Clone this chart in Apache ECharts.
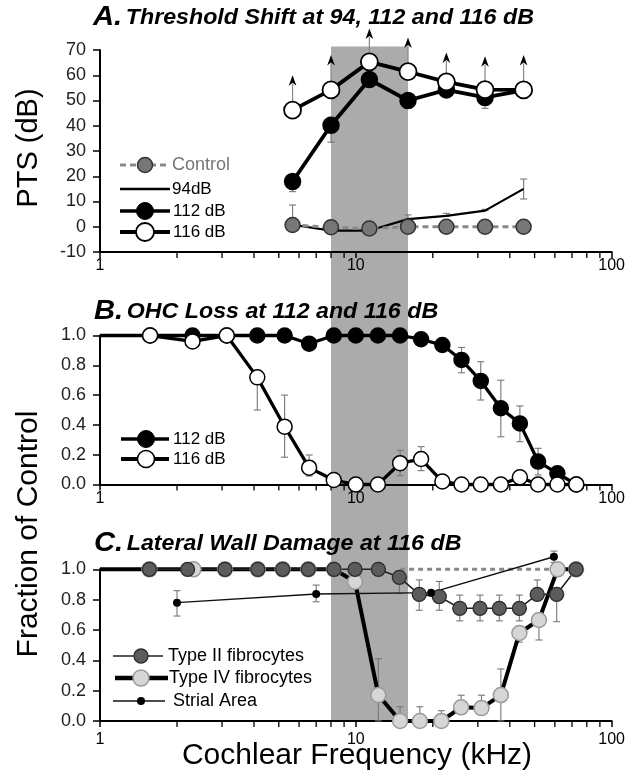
<!DOCTYPE html>
<html><head><meta charset="utf-8">
<script src="https://cdn.jsdelivr.net/npm/echarts@6/dist/echarts.min.js"></script>
<style>html,body{margin:0;padding:0;background:#fff}#c{width:632px;height:778px}</style>
</head><body><div id="c"></div>
<script>
// ---------- Panel A : Threshold shift (dB) ----------
const FREQ_A = [5.66, 8, 11.3, 16, 22.6, 32, 45.3];
const PTS_CONTROL = [0.7, -0.2, -0.7, 0, 0, 0, 0];
const PTS_94 = [0.8, -1.5, -1.5, 3, 4.3, 6.4, 15];
const PTS_112 = [17.9, 40.2, 58.3, 50, 54.2, 51.2, 54];
const PTS_116 = [46.2, 54.2, 65.3, 61.4, 57.4, 54.3, 54.2];
const ARROW_TIP_116 = [60, 68, 78.5, 75, 69, 67.5, 68];
const ERR_A_94 = [[5.66, 0.8, 8.6], [16, 3, 4.7], [22.6, 4.3, 5.3], [32, 6.4, 6.9], [45.3, 11, 18.9]];
const ERR_A_112 = [[5.66, 13.9, 17.9], [8, 33.5, 43.4], [32, 46.9, 51.2]];

// ---------- Panel B : OHC loss (fraction of control) ----------
const FREQ_B = [1.57, 2.3, 3.13, 4.12, 5.27, 6.57, 8.2, 10, 12.2, 14.9, 18, 21.8, 25.9, 30.8, 36.9, 43.8, 51.6, 61.4, 72.8];
const OHC_112 = [1, 1, 1, 1, 1, 0.945, 1, 1, 1, 1, 0.975, 0.936, 0.836, 0.695, 0.512, 0.41, 0.154, 0.075, 0];
const OHC_116 = [1, 0.96, 1, 0.719, 0.388, 0.113, 0.03, 0, 0, 0.143, 0.171, 0.02, 0, 0, 0, 0.048, 0, 0, 0];
const ERR_B_112 = [[25.9, 0.75, 0.92], [30.8, 0.567, 0.824], [36.9, 0.32, 0.70], [43.8, 0.287, 0.527], [51.6, 0.064, 0.243]];
const ERR_B_116 = [[4.12, 0.5, 0.719], [5.27, 0.183, 0.6], [6.57, 0.057, 0.198], [14.9, 0.059, 0.23], [18, 0.093, 0.254]];

// ---------- Panel C : Lateral wall damage ----------
const FREQ_C_II = [1.56, 2.2, 3.08, 4.14, 5.18, 6.52, 8.22, 9.93, 12.25, 14.8, 17.7, 21.2, 25.5, 30.6, 36.4, 43.6, 51.2, 61, 72.6];
const TYPE_II = [1, 1, 1, 1, 1, 1, 1, 1, 1, 0.947, 0.835, 0.82, 0.743, 0.743, 0.743, 0.743, 0.835, 0.835, 1.0];
const FREQ_C_IV = [1.56, 2.32, 3.08, 4.14, 5.18, 6.52, 8.22, 9.93, 12.25, 14.9, 17.8, 21.6, 25.8, 31, 36.9, 43.6, 52, 61.5, 72.6];
const TYPE_IV = [1, 1, 1, 1, 1, 1, 1, 0.918, 0.171, 0, 0, 0, 0.09, 0.085, 0.171, 0.58, 0.666, 1.0, 1.0];
const STRIAL_FREQ = [2, 7, 19.7, 59.5];
const STRIAL = [0.78, 0.837, 0.846, 1.083];
const CONTROL_C_FREQ = [14.9, 72.6];
const CONTROL_C = [1, 1];
const ERR_C_II = [[14.8, 0.84, 0.947], [17.7, 0.73, 0.93], [21.2, 0.73, 0.92], [25.5, 0.66, 0.83], [30.6, 0.66, 0.83], [36.4, 0.66, 0.83], [43.6, 0.66, 0.83], [51.2, 0.835, 0.93], [61, 0.655, 0.835]];
const ERR_C_IV = [[12.25, 0, 0.41], [14.9, 0, 0.094], [17.8, 0, 0.094], [21.6, 0, 0.068], [25.8, 0.09, 0.17], [31, 0.085, 0.17], [36.9, 0, 0.343], [43.6, 0.52, 0.58], [52, 0.534, 0.666]];
const ERR_STRIAL = [[2, 0.692, 0.859], [7, 0.786, 0.896], [59.5, 1.045, 1.12]];

// axes / decoration values
const LINE_START_KHZ = 1;
const MINOR_TICKS = [2, 3, 4, 5, 6, 7, 8, 9, 20, 30, 40, 50, 60, 70, 80, 90];
const BAND_KHZ = [8, 16];
const BAND_TOP_DB = 71.4;
const X_LABELS = [1, 10, 100];

const FONT = "'Liberation Sans', Arial, Helvetica, sans-serif";
const chart = echarts.init(document.getElementById('c'), null, {renderer: 'canvas'});

function pts(xs, ys) { return xs.map((x, i) => [x, ys[i]]); }
function withStart(xs, ys) {
  return [{value: [LINE_START_KHZ, ys[0]], symbol: 'none'}].concat(pts(xs, ys));
}

const GRIDS = [
  {left: 100, top: 50, width: 511.6, height: 202},
  {left: 100, top: 335.5, width: 511.6, height: 149},
  {left: 100, top: 569.3, width: 511.6, height: 151.7}
];
const XMARGIN = [6, 6, 11];

const xAxes = GRIDS.map((g, i) => ({
  type: 'log', logBase: 10, min: 1, max: 100, gridIndex: i,
  axisLine: {show: true, onZero: false, lineStyle: {color: '#000', width: 2}},
  axisTick: {show: true, length: 6, inside: false, lineStyle: {color: '#000', width: 1.5}},
  axisLabel: {show: true, fontSize: 16, color: '#000', fontFamily: FONT, margin: XMARGIN[i],
    formatter: v => (X_LABELS.indexOf(Math.round(v)) >= 0 ? String(Math.round(v)) : '')},
  splitLine: {show: false}, minorTick: {show: false}, minorSplitLine: {show: false}
}));

const yAxes = GRIDS.map((g, i) => ({
  type: 'value', gridIndex: i,
  min: i === 0 ? -10 : 0, max: i === 0 ? 70 : 1, interval: i === 0 ? 10 : 0.2,
  axisLine: {show: true, onZero: false, lineStyle: {color: '#000', width: 2}},
  axisTick: {show: true, length: 7, inside: false, lineStyle: {color: '#000', width: 1.5}},
  axisLabel: {show: true, fontSize: 18, color: '#222', fontFamily: FONT, margin: 14,
    formatter: v => (i === 0 ? String(Math.round(v)) : v.toFixed(1))},
  splitLine: {show: false}
}));

function errRender(params, api) {
  const x = api.value(0), lo = api.value(1), hi = api.value(2);
  const p1 = api.coord([x, lo]), p2 = api.coord([x, hi]);
  const w = 3.5, st = {stroke: '#777', lineWidth: 1.1};
  return {type: 'group', children: [
    {type: 'line', shape: {x1: p1[0], y1: p1[1], x2: p2[0], y2: p2[1]}, style: st},
    {type: 'line', shape: {x1: p1[0] - w, y1: p1[1], x2: p1[0] + w, y2: p1[1]}, style: st},
    {type: 'line', shape: {x1: p2[0] - w, y1: p2[1], x2: p2[0] + w, y2: p2[1]}, style: st}
  ]};
}
function errSeries(gi, data) {
  return {type: 'custom', xAxisIndex: gi, yAxisIndex: gi, data: data, clip: false, silent: true,
    encode: {x: 0, y: [1, 2]}, renderItem: errRender, z: 2};
}
function arrowRender(params, api) {
  const x = api.value(0);
  const p0 = api.coord([x, api.value(1)]), p1 = api.coord([x, api.value(2)]);
  const hw = 3.8, hl = 10.5;
  return {type: 'group', children: [
    {type: 'line', shape: {x1: p0[0], y1: p0[1], x2: p1[0], y2: p1[1] + hl - 2}, style: {stroke: '#888', lineWidth: 1.2}},
    {type: 'polygon', shape: {points: [[p1[0], p1[1]], [p1[0] - hw, p1[1] + hl], [p1[0], p1[1] + hl - 3], [p1[0] + hw, p1[1] + hl]]}, style: {fill: '#000'}}
  ]};
}
function minorTickSeries(gi) {
  return {type: 'custom', xAxisIndex: gi, yAxisIndex: gi, clip: false, silent: true,
    data: MINOR_TICKS.map(v => [v, 0.5]), encode: {x: 0, y: 1}, z: 1,
    renderItem: (params, api) => {
      const x = api.coord([api.value(0), api.value(1)])[0];
      const yb = params.coordSys.y + params.coordSys.height;
      return {type: 'line', shape: {x1: x, y1: yb, x2: x, y2: yb + 6}, style: {stroke: '#000', lineWidth: 1.3}};
    }};
}
function lineSeries(gi, data, o) {
  return {type: 'line', xAxisIndex: gi, yAxisIndex: gi, data: data,
    symbol: o.symbol || 'circle', symbolSize: o.size || 15, showSymbol: true, showAllSymbol: true,
    lineStyle: {color: o.color || '#000', width: o.width || 3, type: o.dash || 'solid'},
    itemStyle: {color: o.fill || '#000', borderColor: o.border || '#000', borderWidth: o.bw == null ? 1.5 : o.bw},
    emphasis: {disabled: true}, clip: false, z: 3, silent: true};
}

const series = [
  minorTickSeries(0), minorTickSeries(1), minorTickSeries(2),
  // Panel A
  errSeries(0, ERR_A_94), errSeries(0, ERR_A_112),
  lineSeries(0, pts(FREQ_A, PTS_94), {symbol: 'none', width: 2.2}),
  lineSeries(0, pts(FREQ_A, PTS_CONTROL), {color: '#888', width: 3, dash: [6, 4], fill: '#777', border: '#333', size: 15}),
  lineSeries(0, pts(FREQ_A, PTS_112), {width: 3.8, size: 16}),
  {type: 'custom', xAxisIndex: 0, yAxisIndex: 0, clip: false, silent: true, z: 3,
    data: FREQ_A.map((f, i) => [f, PTS_116[i], ARROW_TIP_116[i]]), encode: {x: 0, y: [1, 2]}, renderItem: arrowRender},
  lineSeries(0, pts(FREQ_A, PTS_116), {width: 3.8, size: 17, fill: '#fff', bw: 1.8}),
  // Panel B
  errSeries(1, ERR_B_112), errSeries(1, ERR_B_116),
  lineSeries(1, withStart(FREQ_B, OHC_112), {width: 3.3, size: 15}),
  lineSeries(1, pts(FREQ_B, OHC_116), {width: 3.3, size: 15, fill: '#fff', bw: 1.5}),
  // Panel C
  errSeries(2, ERR_C_II), errSeries(2, ERR_C_IV), errSeries(2, ERR_STRIAL),
  lineSeries(2, pts(CONTROL_C_FREQ, CONTROL_C), {symbol: 'none', color: '#888', width: 3, dash: [5, 4]}),
  lineSeries(2, withStart(FREQ_C_IV, TYPE_IV), {width: 4, size: 15, fill: '#d6d6d6', border: '#9a9a9a', bw: 1.5}),
  lineSeries(2, pts(FREQ_C_II, TYPE_II), {width: 1.6, color: '#222', size: 14, fill: '#5c5c5c', border: '#2a2a2a', bw: 1.3}),
  lineSeries(2, pts(STRIAL_FREQ, STRIAL), {width: 1.4, color: '#111', size: 8, fill: '#000', bw: 0})
];

chart.setOption({
  animation: false,
  backgroundColor: '#fff',
  grid: GRIDS.map(g => Object.assign({containLabel: false}, g)),
  xAxis: xAxes, yAxis: yAxes, series: series
});

// ----- decorations (band, titles, axis names, keys) -----
const bx1 = chart.convertToPixel({xAxisIndex: 0}, BAND_KHZ[0]);
const bx2 = chart.convertToPixel({xAxisIndex: 0}, BAND_KHZ[1]);
const byTop = chart.convertToPixel({yAxisIndex: 0}, BAND_TOP_DB);
const byBot = chart.convertToPixel({yAxisIndex: 2}, 0);

function txt(x, y, text, size, opts) {
  opts = opts || {};
  return {type: 'text', x: x, y: y, rotation: opts.rot || 0, z: 20,
    style: {text: text, fill: opts.color || '#000', font: (opts.weight || 'normal') + ' ' + size + 'px ' + FONT,
      fontSize: size, fontFamily: FONT, align: opts.align || 'left', verticalAlign: 'middle',
      textAlign: opts.align || 'left', textVerticalAlign: 'middle'}};
}
function title(x, y, letter, rest) {
  return {type: 'text', x: x, y: y, z: 20, scaleX: 1.08, scaleY: 1, style: {
    text: '{a|' + letter + '} {b|' + rest + '}', verticalAlign: 'middle', textVerticalAlign: 'middle', fill: '#000',
    rich: {
      a: {fontSize: 27, fontWeight: 'bold', fontStyle: 'italic', fontFamily: FONT, fill: '#000', color: '#000'},
      b: {fontSize: 21.5, fontWeight: 'bold', fontStyle: 'italic', fontFamily: FONT, fill: '#000', color: '#000'}
    }}};
}
function hline(x1, x2, y, w, color, dash) {
  return {type: 'line', z: 20, shape: {x1: x1, y1: y, x2: x2, y2: y},
    style: {stroke: color || '#000', lineWidth: w, lineDash: dash || null}};
}
function dot(cx, cy, r, fill, stroke, lw) {
  return {type: 'circle', z: 21, shape: {cx: cx, cy: cy, r: r},
    style: {fill: fill, stroke: stroke || null, lineWidth: lw || 0}};
}

const graphic = [
  {type: 'rect', z: -5, shape: {x: bx1, y: byTop, width: bx2 - bx1, height: byBot - byTop}, style: {fill: '#ababab'}},
  title(93, 18, 'A.', 'Threshold Shift at 94, 112 and 116 dB'),
  title(94, 312, 'B.', 'OHC Loss at 112 and 116 dB'),
  title(94, 544, 'C.', 'Lateral Wall Damage at 116 dB'),
  txt(29, 148, 'PTS (dB)', 29, {rot: Math.PI / 2, align: 'center'}),
  txt(29, 534, 'Fraction of Control', 30, {rot: Math.PI / 2, align: 'center'}),
  txt(357, 756, 'Cochlear Frequency (kHz)', 30, {align: 'center'}),
  // Panel A key
  hline(120, 167, 165, 3, '#888', [6, 4]), dot(145, 165, 7.5, '#777', '#333', 1.5), txt(172, 165, 'Control', 18, {color: '#777'}),
  hline(120, 170, 189, 2.5, '#000'), txt(172, 189, '94dB', 17),
  hline(120, 170, 211, 3.5, '#000'), dot(145, 211, 8.5, '#000', '#000', 1), txt(173, 211, '112 dB', 17),
  hline(120, 170, 232, 4.2, '#000'), dot(145, 232, 9, '#fff', '#000', 1.8), txt(173, 232, '116 dB', 17),
  // Panel B key
  hline(121, 169, 439, 3.5, '#000'), dot(146, 439, 8.5, '#000', '#000', 1), txt(173, 439, '112 dB', 17),
  hline(121, 169, 459, 3.8, '#000'), dot(146, 459, 8.5, '#fff', '#000', 1.6), txt(173, 459, '116 dB', 17),
  // Panel C key
  hline(113, 163, 656, 1.5, '#222'), dot(141, 656, 7, '#5c5c5c', '#2a2a2a', 1.3), txt(168, 656, 'Type II fibrocytes', 18),
  hline(115, 168, 678, 4.5, '#000'), dot(141, 678, 8, '#d6d6d6', '#9a9a9a', 1.5), txt(169, 678, 'Type IV fibrocytes', 18),
  hline(113, 165, 701, 1.3, '#111'), dot(141, 701, 4, '#000'), txt(173, 701, 'Strial Area', 18)
];
chart.setOption({graphic: graphic});
</script>
</body></html>
